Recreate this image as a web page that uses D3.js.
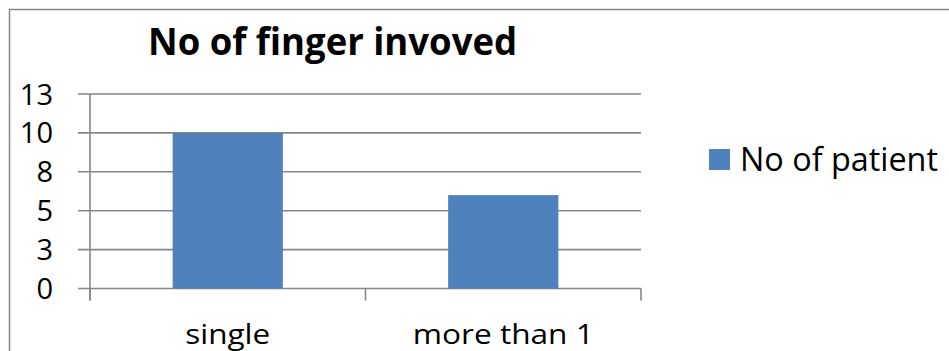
<!DOCTYPE html>
<html>
<head>
<meta charset="utf-8">
<script src="https://cdn.jsdelivr.net/npm/d3@7/dist/d3.min.js"></script>
<style>
  html, body { margin: 0; padding: 0; background: #fff; }
  svg { display: block; font-family: "Open Sans", "Noto Sans", sans-serif; }
</style>
</head>
<body>
<svg id="chart" width="949" height="351"></svg>
<script>
// Chart data
const categories = ["single", "more than 1"];
const patients = [10, 6];
const seriesName = "No of patient";
const yTicks = [0, 2.5, 5, 7.5, 10, 12.5];
const yTickLabels = ["0", "3", "5", "8", "10", "13"];
const title = "No of finger invoved";

const svg = d3.select("#chart");
const gridColor = "#878787";
const barColor = "#4F81BD";

// outer chart frame (runs past the right and bottom edges)
svg.append("rect")
  .attr("x", 9.5).attr("y", 9.5)
  .attr("width", 980).attr("height", 380)
  .attr("fill", "none").attr("stroke", gridColor).attr("stroke-width", 1.5);

const plot = { left: 90, right: 641, top: 94, bottom: 288.5 };

const y = d3.scaleLinear().domain([0, 12.5]).range([plot.bottom, plot.top]);
const x = d3.scaleBand().domain(categories)
  .range([plot.left, plot.right])
  .paddingInner(0.6).paddingOuter(0.3);

// horizontal gridlines with left tick stubs
svg.append("g").selectAll("line").data(yTicks).join("line")
  .attr("x1", plot.left - 12).attr("x2", plot.right)
  .attr("y1", d => y(d)).attr("y2", d => y(d))
  .attr("stroke", gridColor).attr("stroke-width", 1.6);

// y axis line
svg.append("line")
  .attr("x1", plot.left).attr("x2", plot.left)
  .attr("y1", plot.top).attr("y2", plot.bottom + 12)
  .attr("stroke", gridColor).attr("stroke-width", 1.6);

// x axis category boundary ticks
const step = x.step();
const xTickPos = [plot.left, plot.left + step, plot.left + 2 * step];
svg.append("g").selectAll("line").data(xTickPos).join("line")
  .attr("x1", d => d).attr("x2", d => d)
  .attr("y1", plot.bottom).attr("y2", plot.bottom + 12)
  .attr("stroke", gridColor).attr("stroke-width", 1.6);

// bars
svg.append("g").selectAll("rect").data(patients).join("rect")
  .attr("x", (d, i) => x(categories[i]))
  .attr("width", x.bandwidth())
  .attr("y", d => y(d))
  .attr("height", d => y(0) - y(d))
  .attr("fill", barColor);

// y tick labels
svg.append("g").selectAll("text").data(yTicks).join("text")
  .attr("x", 53)
  .attr("y", d => y(d) + 10.5)
  .attr("text-anchor", "end")
  .attr("font-size", 29)
  .attr("fill", "#000")
  .text((d, i) => yTickLabels[i]);

// category labels
const catWidths = [85, 181];
svg.append("g").selectAll("text").data(categories).join("text")
  .attr("x", d => x(d) + x.bandwidth() / 2)
  .attr("y", 344)
  .attr("text-anchor", "middle")
  .attr("font-size", 28)
  .attr("textLength", (d, i) => catWidths[i])
  .attr("lengthAdjust", "spacingAndGlyphs")
  .attr("fill", "#000")
  .text(d => d);

// title
svg.append("text")
  .attr("x", 332.5).attr("y", 55)
  .attr("text-anchor", "middle")
  .attr("font-size", 38).attr("font-weight", "bold")
  .attr("textLength", 369).attr("lengthAdjust", "spacingAndGlyphs")
  .attr("fill", "#000")
  .text(title);

// legend
const legend = svg.append("g");
legend.append("rect")
  .attr("x", 709).attr("y", 149).attr("width", 21).attr("height", 21)
  .attr("fill", barColor);
legend.append("text")
  .attr("x", 740).attr("y", 171)
  .attr("font-size", 33)
  .attr("textLength", 198).attr("lengthAdjust", "spacingAndGlyphs")
  .attr("fill", "#000")
  .text(seriesName);
</script>
</body>
</html>
